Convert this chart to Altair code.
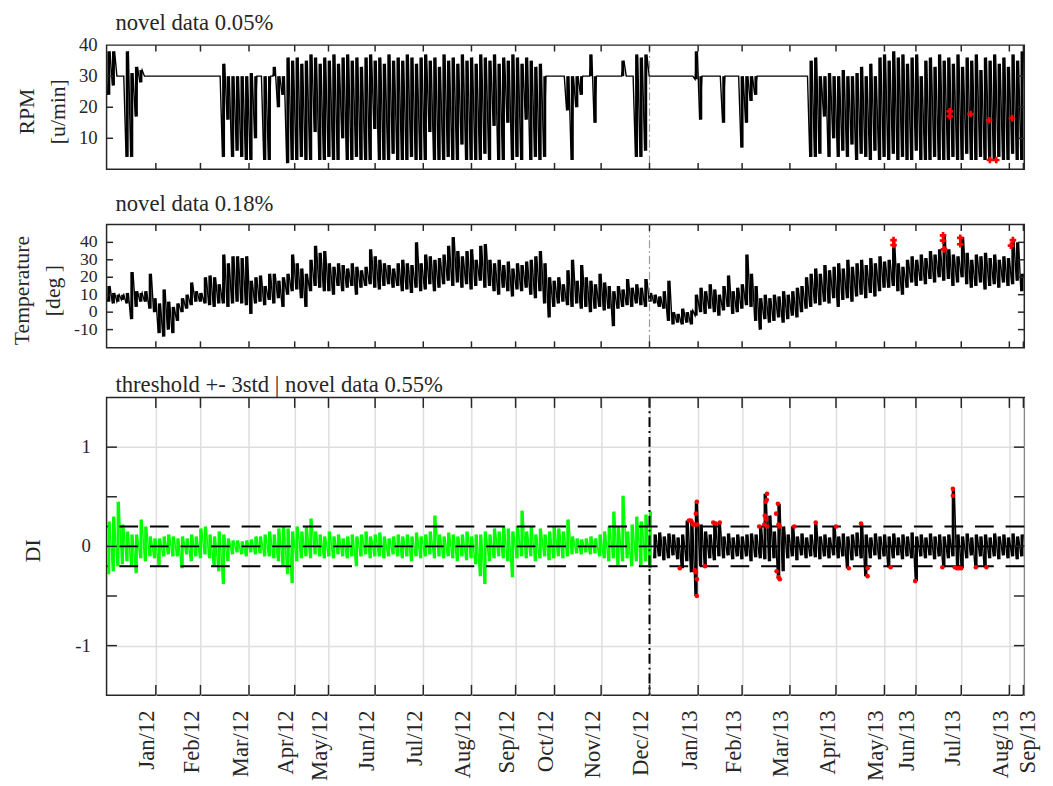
import altair as alt
import pandas as pd

FONT = "Liberation Serif"
INK = "#262626"
W = 931

# x positions are sample indices (0..1000); month ticks sit where each month starts
MONTH_POS = [53.7, 102.3, 155.2, 205.0, 241.8, 292.6, 345.1, 397.6, 445.7, 488.1, 538.9,
             591.6, 644.6, 692.5, 744.6, 794.8, 847.6, 881.9, 931.3, 983.7, 999.0]
MONTH_LBL = ["Jan/12", "Feb/12", "Mar/12", "Apr/12", "May/12", "Jun/12", "Jul/12", "Aug/12",
             "Sep/12", "Oct/12", "Nov/12", "Dec/12", "Jan/13", "Feb/13", "Mar/13", "Apr/13",
             "May/13", "Jun/13", "Jul/13", "Aug/13", "Sep/13"]
SPLIT_POS = 591.6
BIN_START = 2.5
BIN_STEP = 5.0
DI_BLACK_START = 597.5

# per-bin minimum / maximum of each signal
RPM_LO = [24, 27, 30, 30, 4, 4, 17, 28] + [30] * 17 + \
    [4, 16, 4, 6, 4, 3, 3, 10, 30, 3, 3, 30, 20, 24,
     2, 3, 3, 4, 3, 3, 12, 3, 3, 4, 3, 3, 10, 3, 3, 4, 3, 3, 3, 13, 3, 3, 3, 5, 3,
     3, 3, 4, 3, 3, 3, 12, 3, 3, 3, 4, 3, 3, 8, 3, 3, 3, 3, 5, 3, 14, 3, 3, 15, 3, 4, 3, 16, 3, 4, 3, 4,
     30, 30, 30, 30, 19, 3, 20, 24, 30, 30, 15, 30, 30, 30, 30, 30, 30, 30, 30, 4, 4, 6, 30] + \
    [30] * 9 + [29, 16, 30, 30, 30, 30, 15, 30, 30, 30, 7, 15, 22, 24] + [30] * 11 + \
    [4, 4, 5, 17, 4, 10, 4, 6, 4, 8, 3, 5, 4, 3, 6, 3, 4, 3, 5, 3, 4, 3, 3, 6, 3, 3, 3, 4, 3, 3,
     3, 4, 3, 3, 5, 3, 3, 4, 3, 3, 3, 4, 3, 3, 5, 3, 3]
RPM_HI = [38, 38, 30, 30, 38, 31, 33, 32] + [30] * 17 + \
    [34, 30, 30, 30, 30, 30, 31, 30, 30, 30, 30, 33, 30, 30,
     36, 35, 36, 34, 35, 37, 36, 34, 36, 35, 37, 34, 36, 37, 35, 36, 33, 36, 37, 35, 36, 34, 37, 35, 36,
     35, 37, 36, 34, 36, 37, 35, 36, 33, 37, 35, 36, 34, 37, 35, 36, 34, 37, 36, 35, 37, 34, 36, 35, 37,
     36, 34, 36, 35, 33, 34, 30,
     30, 30, 30, 30, 30, 30, 30, 30, 30, 37, 30, 30, 30, 30, 30, 30, 35, 30, 30, 37, 36, 37, 30] + \
    [30] * 9 + [38, 30, 30, 30, 30, 30, 30, 30, 30, 30, 30, 30, 30, 30] + [30] * 11 + \
    [35, 36, 30, 30, 31, 30, 30, 32, 30, 30, 31, 33, 30, 34, 30, 36, 37, 35, 38, 36, 37, 34, 36, 37, 30,
     35, 36, 33, 37, 35, 36, 34, 37, 33, 36, 35, 37, 32, 36, 35, 37, 34, 36, 33, 37, 35, 38]

TEMP_LO = [6, 5, 6, 7, 5, -4, 3, 6, 6, 2, 0, -12, -14, -10, -12, -5, 0, 2, 4, 6,
           6, 5, 4, 3, 5, 5, 3, 5, 6, 5, 4, -1, 5, 6, 4, 7, 5, 8, 3, 10,
           12, 13, 8, 3, 12, 15, 14, 12, 12, 10, 15, 12, 14, 15, 10, 14, 15, 16, 14, 13,
           15, 16, 14, 15, 12, 13, 11, 14, 12, 13, 16, 12, 14, 16, 18, 15, 17, 14, 16, 13,
           15, 18, 14, 15, 12, 10, 14, 12, 9, 13, 12, 14, 10, 8, 12, 5, -3, 3, 5, 6,
           4, 3, 5, 2, 3, 0, 2, 3, 1, 2, -8, 2, 3, 4, 3, 5, 4, 3, 6, 5,
           3, 2, -5, -7, -6, -7, -6, -7, -2, 0, -1, 2, 0, -2, 1, 3, -1, 0, 2, 4,
           3, -5, -10, -4, -6, -5, -3, -6, -4, -2, -3, 0, 2, 3, 5, 4, 6, 5, 8, 3,
           7, 8, 6, 9, 10, 8, 11, 9, 12, 14, 14, 15, 12, 10, 14, 17, 15, 18, 16, 19,
           17, 20, 18, 19, 15, 17, 20, 16, 14, 15, 17, 13, 15, 16, 14, 17, 15, 16, 18, 12]
TEMP_HI = [15, 11, 10, 10, 11, 23, 12, 11, 12, 22, 8, 5, 13, 6, 3, 5, 8, 10, 17, 12,
           11, 20, 21, 20, 16, 33, 28, 32, 32, 31, 32, 18, 20, 21, 15, 22, 22, 18, 20, 22,
           33, 28, 25, 22, 30, 38, 34, 35, 28, 26, 28, 27, 25, 28, 26, 24, 26, 36, 32, 30,
           28, 27, 25, 28, 30, 28, 27, 40, 28, 33, 32, 30, 31, 33, 38, 43, 35, 32, 35, 36,
           30, 38, 39, 30, 28, 30, 27, 29, 25, 28, 27, 29, 30, 32, 35, 28, 20, 18, 20, 16,
           24, 30, 18, 27, 20, 18, 16, 22, 17, 15, 12, 15, 13, 19, 14, 16, 14, 19, 11, 10,
           9, 12, 18, 0, -1, 2, 0, 1, 10, 14, 12, 16, 13, 10, 15, 21, 12, 14, 16, 33,
           22, 15, 8, 10, 8, 10, 9, 12, 10, 12, 14, 15, 20, 22, 25, 22, 27, 24, 26, 28,
           25, 30, 26, 28, 30, 27, 31, 28, 32, 29, 30, 41, 28, 26, 30, 32, 30, 33, 31, 35,
           33, 36, 44, 36, 33, 32, 43, 34, 30, 33, 32, 34, 31, 33, 30, 32, 31, 41, 40, 22]

DI_GREEN_LO = [-0.28, -0.25, -0.20, -0.18, -0.15, -0.20, -0.27, -0.12, -0.15, -0.10,
               -0.12, -0.20, -0.10, -0.08, -0.10, -0.10, -0.22, -0.08, -0.15, -0.10,
               -0.12, -0.08, -0.12, -0.20, -0.25, -0.38, -0.15, -0.08, -0.06, -0.08,
               -0.10, -0.06, -0.08, -0.07, -0.10, -0.10, -0.12, -0.15, -0.20, -0.28,
               -0.37, -0.15, -0.12, -0.10, -0.12, -0.08, -0.10, -0.12, -0.10, -0.12,
               -0.08, -0.10, -0.12, -0.10, -0.20, -0.10, -0.08, -0.12, -0.10, -0.10,
               -0.12, -0.10, -0.08, -0.10, -0.12, -0.10, -0.15, -0.10, -0.12, -0.10,
               -0.08, -0.12, -0.10, -0.12, -0.10, -0.12, -0.15, -0.10, -0.14, -0.12,
               -0.18, -0.30, -0.38, -0.15, -0.12, -0.10, -0.12, -0.15, -0.31, -0.12,
               -0.10, -0.12, -0.10, -0.15, -0.12, -0.10, -0.14, -0.12, -0.10, -0.12,
               -0.10, -0.08, -0.07, -0.08, -0.06, -0.08, -0.07, -0.10, -0.12, -0.15,
               -0.12, -0.20, -0.15, -0.12, -0.20, -0.15, -0.20, -0.15, -0.22]
DI_GREEN_HI = [0.25, 0.30, 0.45, 0.22, 0.15, 0.12, 0.12, 0.27, 0.20, 0.10,
               0.08, 0.08, 0.10, 0.12, 0.10, 0.08, 0.10, 0.08, 0.12, 0.10,
               0.18, 0.20, 0.12, 0.10, 0.15, 0.12, 0.08, 0.06, 0.06, 0.05,
               0.06, 0.07, 0.10, 0.10, 0.12, 0.15, 0.12, 0.18, 0.20, 0.18,
               0.15, 0.20, 0.15, 0.20, 0.28, 0.15, 0.12, 0.10, 0.15, 0.10,
               0.12, 0.08, 0.10, 0.12, 0.10, 0.12, 0.15, 0.10, 0.12, 0.14,
               0.10, 0.08, 0.10, 0.12, 0.10, 0.12, 0.10, 0.14, 0.10, 0.12,
               0.15, 0.31, 0.12, 0.10, 0.14, 0.12, 0.10, 0.12, 0.15, 0.10,
               0.12, 0.12, 0.15, 0.12, 0.18, 0.15, 0.20, 0.18, 0.15, 0.20,
               0.36, 0.15, 0.20, 0.12, 0.18, 0.12, 0.15, 0.20, 0.18, 0.15,
               0.27, 0.10, 0.08, 0.07, 0.08, 0.10, 0.08, 0.12, 0.15, 0.20,
               0.35, 0.20, 0.51, 0.15, 0.22, 0.30, 0.25, 0.32, 0.35]
DI_BLACK_LO = [-0.12, -0.10, -0.14, -0.12, -0.09, -0.13, -0.22, -0.15, -0.26, -0.50,
               -0.20, -0.20, -0.12, -0.14, -0.10, -0.12, -0.09, -0.13, -0.10, -0.13,
               -0.10, -0.15, -0.11, -0.12, -0.13, -0.15, -0.12, -0.33, -0.25, -0.12,
               -0.10, -0.14, -0.09, -0.12, -0.10, -0.11, -0.13, -0.10, -0.12, -0.09,
               -0.12, -0.10, -0.22, -0.14, -0.10, -0.12, -0.30, -0.12, -0.09, -0.13,
               -0.10, -0.21, -0.12, -0.09, -0.13, -0.10, -0.12, -0.35, -0.10, -0.12,
               -0.09, -0.13, -0.10, -0.21, -0.12, -0.10, -0.21, -0.22, -0.12, -0.09,
               -0.21, -0.10, -0.21, -0.12, -0.10, -0.13, -0.09, -0.12, -0.10, -0.13, -0.10]
DI_BLACK_HI = [0.12, 0.14, 0.10, 0.13, 0.12, 0.09, 0.12, 0.26, 0.26, 0.45,
               0.22, 0.15, 0.12, 0.24, 0.24, 0.10, 0.13, 0.09, 0.12, 0.10,
               0.12, 0.13, 0.12, 0.20, 0.53, 0.31, 0.15, 0.43, 0.20, 0.12,
               0.20, 0.10, 0.13, 0.09, 0.12, 0.24, 0.10, 0.12, 0.09, 0.20,
               0.10, 0.13, 0.10, 0.12, 0.14, 0.23, 0.12, 0.09, 0.13, 0.10,
               0.12, 0.10, 0.13, 0.09, 0.12, 0.10, 0.14, 0.10, 0.12, 0.09,
               0.13, 0.10, 0.12, 0.10, 0.12, 0.58, 0.12, 0.10, 0.13, 0.09,
               0.12, 0.10, 0.12, 0.09, 0.13, 0.10, 0.12, 0.09, 0.13, 0.10, 0.12]

# flagged (novel) samples
RPM_NOVEL_X = [918.8, 918.8, 941.5, 961.6, 962.5, 969.4, 986.6]
RPM_NOVEL_Y = [18.7, 17.1, 17.8, 15.8, 3.0, 3.0, 16.5]
TEMP_NOVEL_X = [857.5, 857.5, 911.5, 911.5, 912.5, 930.2, 930.2, 987.6, 985.5]
TEMP_NOVEL_Y = [41.3, 38.5, 44.0, 41.0, 36.0, 42.6, 38.9, 41.3, 38.1]
DI_NOVEL_X = [624.6, 634.6, 636.7, 638.9, 641.0, 642.1, 643.2, 643.7, 641.0, 642.1, 643.2, 643.2,
              652.1, 661.1, 663.6, 668.2, 711.1, 716.7, 717.2, 718.3, 719.4, 719.7, 718.8, 719.9,
              729.6, 731.5, 732.2, 733.3, 730.1, 732.2, 733.6, 749.4, 772.7, 794.8, 808.8, 822.1,
              829.2, 829.2, 854.3, 881.1, 910.7, 922.2, 922.2, 924.3, 926.5, 928.6, 931.1, 947.2, 958.7]
DI_NOVEL_Y = [-0.22, 0.26, 0.26, 0.22, 0.22, 0.33, 0.45, 0.22, -0.24, -0.26, -0.33, -0.50,
              -0.20, 0.24, 0.23, 0.24, 0.20, 0.22, 0.31, 0.45, 0.47, 0.53, 0.27, 0.20,
              0.33, 0.43, 0.22, 0.20, -0.25, -0.31, -0.33, 0.20, 0.24, 0.20, -0.22, 0.23,
              -0.22, -0.30, -0.21, -0.35, -0.21, 0.58, 0.51, -0.21, -0.22, -0.22, -0.22, -0.21, -0.21]

RPM_TICKS = [10, 20, 30, 40]
RPM_TICK_LBL = ["10", "20", "30", "40"]
TEMP_TICKS = [-10, 0, 10, 20, 30, 40]
TEMP_TICK_LBL = ["-10", "0", "10", "20", "30", "40"]
DI_TICKS = [-1, -0.5, 0, 0.5, 1]
DI_LABELS = [-1, 0, 1]
DI_TICK_LBL = ["-1", "0", "1"]
THRESHOLDS = [-0.2, 0.0, 0.2]

TITLES = ["novel data 0.05%", "novel data 0.18%", "threshold +- 3std | novel data 0.55%"]

U = alt.Undefined


def envelope(lo, hi, start):
    xs, ys = [], []
    for i, (a, b) in enumerate(zip(lo, hi)):
        c = start + BIN_STEP * i
        xs += [c - 1.25, c + 1.25]
        ys += [a, b]
    return pd.DataFrame({"x": xs, "y": ys})


def bars(lo, hi, start):
    return pd.DataFrame({"x": [start + BIN_STEP * i for i in range(len(lo))],
                         "lo": lo, "hi": hi})


XS = alt.Scale(domain=[0, 1000], nice=False, zero=False)
month_df = pd.DataFrame({"pos": MONTH_POS, "lbl": MONTH_LBL})
split_df = pd.DataFrame({"pos": [SPLIT_POS]})


def signal(lo, hi, start, color, ysc, xax, yax, xax2, yax2):
    ln = alt.Chart(envelope(lo, hi, start)).mark_line(color=color, strokeWidth=1.4).encode(
        x=alt.X("x:Q", scale=XS, axis=xax),
        y=alt.Y("y:Q", scale=ysc, axis=yax))
    br = alt.Chart(bars(lo, hi, start)).mark_rule(color=color, strokeWidth=3.0).encode(
        x=alt.X("x:Q", scale=XS, axis=xax2),
        y=alt.Y("lo:Q", scale=ysc, axis=yax2), y2="hi:Q")
    return [ln, br]


def frame_ticks(h, L, yvals, ysc, xax):
    tk = alt.Chart(month_df).mark_rule(color=INK, strokeWidth=1.5)
    xt = tk.encode(x=alt.X("pos:Q", scale=XS, axis=xax), y=alt.value(0), y2=alt.value(L))
    xb = tk.encode(x=alt.X("pos:Q", scale=XS, axis=xax), y=alt.value(h), y2=alt.value(h - L))
    ydf = pd.DataFrame({"v": yvals})
    yk = alt.Chart(ydf).mark_rule(color=INK, strokeWidth=1.5)
    yl = yk.encode(y=alt.Y("v:Q", scale=ysc), x=alt.value(0), x2=alt.value(L))
    yr = yk.encode(y=alt.Y("v:Q", scale=ysc), x=alt.value(W), x2=alt.value(W - L))
    return [xt, xb, yl, yr]


def ylabels(vals, lbls, ysc, pad, size=19):
    df = pd.DataFrame({"v": vals, "s": lbls})
    return alt.Chart(df).mark_text(align="right", baseline="middle", font=FONT, fontSize=size,
                                   color=INK).encode(
        y=alt.Y("v:Q", scale=ysc), text="s:N", x=alt.value(-pad))


def title_mark(text, dy):
    return alt.Chart(pd.DataFrame({"t": [text]})).mark_text(
        align="left", baseline="alphabetic", font=FONT, fontSize=23, color=INK).encode(
        text="t:N", x=alt.value(9), y=alt.value(-dy))


def yaxis(title, tx, h, grid=False, values=U):
    return alt.Axis(values=values, title=title, titleX=tx, titleY=h / 2 + 4,
                    titleAngle=270, titleAlign="center", titleBaseline="middle",
                    titleFont=FONT, titleFontSize=22, titleFontWeight="normal",
                    titleColor=INK, titleLineHeight=31, labels=False,
                    ticks=False, domain=False, grid=grid,
                    gridColor="#dedede", gridWidth=1.5)


def split_rule(color, width, dash, xax):
    return alt.Chart(split_df).mark_rule(color=color, strokeWidth=width, strokeDash=dash).encode(
        x=alt.X("pos:Q", scale=XS, axis=xax))


def novel_marks(xs, ys, ysc, xax, kind):
    df = pd.DataFrame({"x": xs, "y": ys})
    if kind == "cross":
        m = alt.Chart(df).mark_point(shape="cross", filled=True, color="red", size=45, opacity=1)
    else:
        m = alt.Chart(df).mark_circle(color="red", size=22, opacity=1)
    return m.encode(x=alt.X("x:Q", scale=XS, axis=xax), y=alt.Y("y:Q", scale=ysc))


# ---------------- RPM ----------------
H1 = 126
ys1 = alt.Scale(domain=[0, 40], nice=False, zero=False)
top = alt.layer(
    *signal(RPM_LO, RPM_HI, BIN_START, "black", ys1, None,
            yaxis(["RPM", "[u/min]"], -81, H1), None, U),
    split_rule("#9a9a9a", 1.2, [8, 3, 2, 3], None),
    novel_marks(RPM_NOVEL_X, RPM_NOVEL_Y, ys1, None, "cross"),
    *frame_ticks(H1, 6.5, [10, 20, 30], ys1, None),
    ylabels(RPM_TICKS, RPM_TICK_LBL, ys1, 9),
    title_mark(TITLES[0], 15)).properties(width=W, height=H1)

# ---------------- Temperature ----------------
H2 = 125
ys2 = alt.Scale(domain=[-20.4, 50.2], nice=False, zero=False)
mid = alt.layer(
    *signal(TEMP_LO, TEMP_HI, BIN_START, "black", ys2, None,
            yaxis(["Temperature", "[deg ]"], -86, H2), None, U),
    split_rule("#9a9a9a", 1.2, [8, 3, 2, 3], None),
    novel_marks(TEMP_NOVEL_X, TEMP_NOVEL_Y, ys2, None, "cross"),
    *frame_ticks(H2, 6.5, TEMP_TICKS, ys2, None),
    ylabels(TEMP_TICKS, TEMP_TICK_LBL, ys2, 9, size=18),
    title_mark(TITLES[1], 14)).properties(width=W, height=H2)

# ---------------- DI ----------------
H3 = 302
ys3 = alt.Scale(domain=[-1.5, 1.5], nice=False, zero=False)
label_expr = "[" + ",".join("'%s'" % s for s in MONTH_LBL) + "][indexof([" + \
    ",".join(str(p) for p in MONTH_POS) + "], datum.value)]"
xaxis = alt.Axis(values=MONTH_POS, labelExpr=label_expr, labelAngle=270, labelAlign="right",
                 labelBaseline="middle",
                 labelOffset={"condition": {"test": "datum.value > 990", "value": 4}, "value": -9},
                 labelPadding=15, labelFlush=False,
                 labelOverlap=False, labelFont=FONT, labelFontSize=23, labelColor=INK,
                 ticks=False, domain=False, grid=True, gridColor="#dedede", gridWidth=1.5,
                 title=None)
thr = alt.Chart(pd.DataFrame({"t": THRESHOLDS})).mark_rule(
    color="black", strokeWidth=2, strokeDash=[19, 12]).encode(
    y=alt.Y("t:Q", scale=ys3))
bottom = alt.layer(
    *signal(DI_GREEN_LO, DI_GREEN_HI, BIN_START, "#00ff00", ys3, xaxis,
            yaxis("DI", -75, H3, grid=True, values=DI_LABELS), U, U),
    *signal(DI_BLACK_LO, DI_BLACK_HI, DI_BLACK_START, "black", ys3, U, U, U, U),
    thr,
    novel_marks(DI_NOVEL_X, DI_NOVEL_Y, ys3, U, "dot"),
    split_rule("black", 2, [10, 4, 2, 4], U),
    *frame_ticks(H3, 10.5, DI_TICKS, ys3, U),
    ylabels(DI_LABELS, DI_TICK_LBL, ys3, 16),
    title_mark(TITLES[2], 6)).properties(width=W, height=H3)

upper = alt.vconcat(top, mid, spacing=21)
chart = alt.vconcat(upper, bottom, spacing=23.5).properties(
    padding={"left": 2, "top": -2, "right": 5, "bottom": 5}
).configure_view(stroke=INK, strokeWidth=1.5)

chart.save("out.html", embed_options={"renderer": "svg", "actions": False})
